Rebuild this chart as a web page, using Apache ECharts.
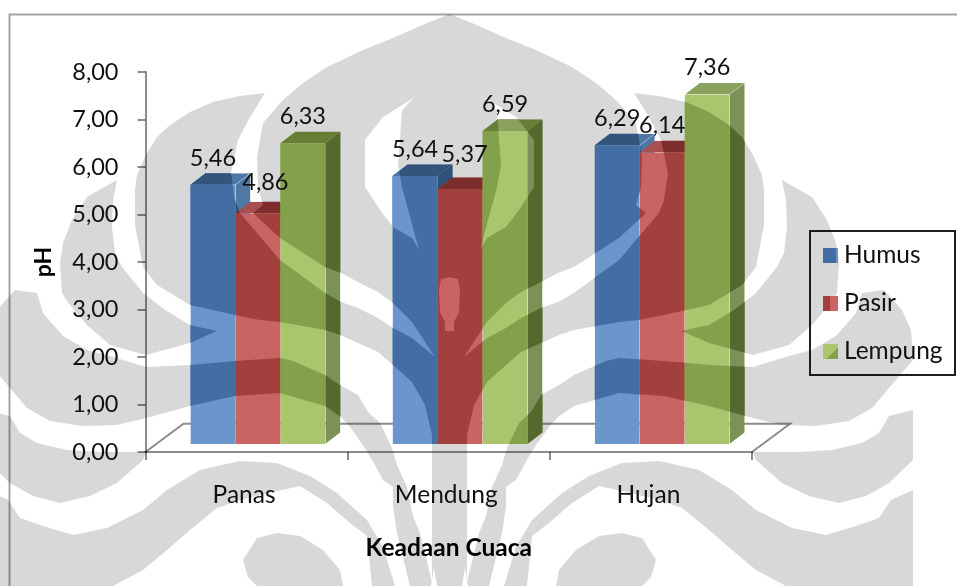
<!DOCTYPE html>
<html>
<head>
<meta charset="utf-8">
<title>pH menurut keadaan cuaca</title>
<script src="https://cdn.jsdelivr.net/npm/echarts@6/dist/echarts.min.js"></script>
<style>html,body{margin:0;padding:0;background:#fff}#chart{width:957px;height:586px}</style>
</head>
<body>
<div id="chart"></div>
<script>
// Chart values
const categories = ['Panas', 'Mendung', 'Hujan'];
const humus = [5.46, 5.64, 6.29];
const pasir = [4.86, 5.37, 6.14];
const lempung = [6.33, 6.59, 7.36];
const phTicks = ['0,00', '1,00', '2,00', '3,00', '4,00', '5,00', '6,00', '7,00', '8,00'];
const valueText = [
  ['5,46', '5,64', '6,29'],
  ['4,86', '5,37', '6,14'],
  ['6,33', '6,59', '7,36']
];
// Nudges for value labels that would otherwise collide with a neighbouring bar
const labelNudge = [
  [[0, 0], [0, 0], [0, 0]],
  [[7.5, -4.5], [4.5, -8], [0, 0]],
  [[0, 0], [0, 0], [0, 0]]
];

// Emblem drawn across the page: left half outlines, the right half is their reflection
const emblemAxis = 899;
const emblemBody = [
  [450,14],[427,23],[393,38],[363,50],[327,67],[303,83],[283,100],[263,123],[257,157],[258,187],[263,205],[253,213],
  [280,238],[325,267],[341,273],[358,282],[378,292],[393,303],[412,322],[435,357],[412,338],[393,328],[378,318],
  [358,308],[341,302],[325,293],[280,260],[240,213],[235,200],[231,173],[238,140],[250,117],[265,93],[240,96],
  [213,102],[190,112],[170,125],[157,137],[146,155],[137,175],[135,190],[135,225],[143,267],[157,285],[190,305],
  [235,315],[260,320],[280,322],[325,330],[340,335],[358,343],[378,352],[393,365],[412,382],[425,405],[432,435],
  [432,586],[450,586]
];
const emblemWing = [
  [117,180],[87,197],[72,220],[63,243],[60,263],[62,293],[70,305],[87,325],[110,345],[146,355],[190,343],[217,331],
  [190,325],[165,310],[143,293],[122,267],[115,253],[112,227],[113,200]
];
const emblemBand = [
  [15,290],[37,293],[43,313],[63,336],[87,350],[110,356],[146,367],[190,365],[235,361],[280,358],[293,361],[325,375],
  [340,385],[358,395],[368,412],[380,423],[392,448],[397,465],[407,487],[413,516],[420,533],[433,586],[410,586],
  [397,533],[393,507],[393,487],[383,480],[375,465],[365,448],[350,427],[341,417],[325,406],[280,393],[235,396],
  [190,406],[146,418],[117,425],[83,426],[50,421],[27,408],[10,388],[-14,360],[-12,330],[-3,310]
];
const emblemLens = [
  [10,416],[20,433],[37,443],[67,450],[100,452],[146,452],[143,460],[117,483],[90,496],[60,503],[33,496],[10,483],
  [-14,460],[-14,410]
];
const emblemWave = [
  [-14,490],[8,500],[20,518],[43,526],[73,535],[107,528],[143,510],[167,490],[200,470],[240,461],[277,463],[310,476],
  [337,493],[367,520],[383,547],[395,586],[372,586],[367,536],[350,523],[327,503],[300,486],[273,492],[240,500],
  [217,508],[190,530],[167,550],[143,570],[113,586],[-14,586]
];
const emblemOval = [
  [243,560],[248,577],[257,586],[343,586],[340,570],[323,550],[300,536],[277,533],[257,538]
];
const emblemCrescent = [
  [415,97],[383,117],[365,140],[365,187],[380,210],[393,227],[412,238],[419,250],[402,187],[398,165],[400,140],[402,110]
];
const emblemFlame = [
  [450,277],[441,279],[439,290],[440,312],[445,322],[445,331],[450,331]
];
const emblemSpike = [
  [434,568],[437,586],[431,586]
];

const mirrored = pts => pts.map(p => [emblemAxis - p[0], p[1]]);
const emblemSolid = [emblemBody, emblemWing, emblemBand, emblemLens, emblemWave, emblemOval]
  .flatMap(pts => [pts, mirrored(pts)]);
const emblemHoles = [emblemCrescent, emblemFlame, emblemSpike]
  .flatMap(pts => [pts, mirrored(pts)]);

// Face tints: [plain, under the emblem]
const palette = [
  { front: ['#6a96cc', '#426ea3'], top: ['#4f77a6', '#33547c'], side: ['#5078a5', '#2f5378'] },
  { front: ['#c96462', '#a2403e'], top: ['#a85050', '#7e2d2d'], side: ['#a05050', '#6f2825'] },
  { front: ['#a9c66f', '#83a04a'], top: ['#8aa05d', '#677f35'], side: ['#7c9158', '#55682e'] }
];

const depthX = 15, depthY = 11.5;          // receding edge of a bar
const floorX = 38, floorY = 28.3;          // receding edge of the chart floor
const insetX = 11.3, insetY = 8;           // how far bars stand back from the front of the floor
const barShare = 0.2225;                   // bar width as a share of the category band

function tintedFace(points, tints) {
  const poly = (pts, fill) => ({ type: 'polygon', silent: true, shape: { points: pts }, style: { fill } });
  return {
    type: 'group',
    clipPath: { type: 'polygon', shape: { points } },
    children: [poly(points, tints[0])]
      .concat(emblemSolid.map(p => poly(p, tints[1])))
      .concat(emblemHoles.map(p => poly(p, tints[0])))
  };
}

function barSeries(name, values, slot) {
  return {
    name,
    type: 'custom',
    z: 5 + slot,
    itemStyle: { color: palette[slot].front[1] },
    data: values.map((v, i) => [i, v]),
    encode: { x: 0, y: 1 },
    renderItem(params, api) {
      const c = api.value(0);
      const band = api.size([1, 0])[0];
      const w = band * barShare;
      const top = api.coord([c, api.value(1)]);
      const base = api.coord([c, 0]);
      const x = top[0] + insetX + (slot - 1.5) * w;
      const y = top[1] - insetY;
      const b = base[1] - insetY;
      const front = [[x, y], [x + w, y], [x + w, b], [x, b]];
      const lid = [[x, y], [x + w, y], [x + w + depthX, y - depthY], [x + depthX, y - depthY]];
      const side = [[x + w, y], [x + w + depthX, y - depthY], [x + w + depthX, b - depthY], [x + w, b]];
      return {
        type: 'group',
        children: [
          tintedFace(side, palette[slot].side),
          tintedFace(lid, palette[slot].top),
          tintedFace(front, palette[slot].front)
        ]
      };
    }
  };
}

// Value labels sit above every bar, so they get a series of their own
const labelRows = [humus, pasir, lempung].flatMap((vals, s) => vals.map((v, i) => [i, v, s]));
const labelSeries = {
  name: 'nilai',
  type: 'custom',
  z: 20,
  data: labelRows,
  encode: { x: 0, y: 1 },
  renderItem(params, api) {
    const c = api.value(0), s = api.value(2);
    const band = api.size([1, 0])[0];
    const w = band * barShare;
    const p = api.coord([c, api.value(1)]);
    const nudge = labelNudge[s][c];
    return {
      type: 'text',
      silent: true,
      x: p[0] + insetX + (s - 1) * w + nudge[0],
      y: p[1] - insetY - 26.5 + nudge[1],
      style: {
        text: valueText[s][c],
        fill: '#111111',
        font: '23.5px Lato',
        align: 'center',
        verticalAlign: 'middle'
      }
    };
  }
};

// Floor outline behind the bars
const floorSeries = {
  name: 'lantai',
  type: 'custom',
  z: 1,
  data: [[0, 0], [2, 0]],
  encode: { x: 0, y: 1 },
  renderItem(params, api) {
    if (params.dataIndex !== 0) return null;
    const half = api.size([1, 0])[0] / 2;
    const a = api.coord([0, 0]);
    const z = api.coord([2, 0]);
    const l = a[0] - half, r = z[0] + half, y = a[1];
    return {
      type: 'polyline',
      silent: true,
      shape: { points: [[l, y], [l + floorX, y - floorY], [r + floorX, y - floorY], [r, y]] },
      style: { stroke: 'rgba(0,0,0,0.45)', lineWidth: 2, fill: null }
    };
  }
};

const hardStops = (x2, y2, first, second, at) => ({
  type: 'linear', x: 0, y: 0, x2, y2,
  colorStops: [
    { offset: 0, color: first }, { offset: at, color: first },
    { offset: at, color: second }, { offset: 1, color: second }
  ]
});

const pageEmblem = emblemSolid.map(pts => ({
  type: 'polygon', silent: true, z: -10, shape: { points: pts }, style: { fill: '#d8d8d8' }
})).concat(emblemHoles.map(pts => ({
  type: 'polygon', silent: true, z: -9, shape: { points: pts }, style: { fill: '#ffffff' }
})));

const frame = [
  { type: 'polyline', silent: true, z: 1,
    shape: { points: [[9.5, 590], [9.5, 14.5], [960, 14.5]] },
    style: { stroke: 'rgba(0,0,0,0.36)', lineWidth: 2, fill: null } },
  { type: 'rect', silent: true, z: 1,
    shape: { x: 810, y: 231, width: 145, height: 144 },
    style: { stroke: 'rgba(0,0,0,0.88)', lineWidth: 2, fill: null } }
];

const axisStroke = { color: 'rgba(0,0,0,0.45)', width: 2 };

const chart = echarts.init(document.getElementById('chart'), null, { renderer: 'canvas' });
chart.setOption({
  animation: false,
  backgroundColor: '#ffffff',
  textStyle: { fontFamily: 'Lato' },
  graphic: { elements: pageEmblem.concat(frame) },
  grid: { left: 145.5, right: 205, top: 72, bottom: 134 },
  legend: {
    orient: 'vertical',
    left: 823,
    top: 243,
    padding: 0,
    itemWidth: 15,
    itemHeight: 15,
    itemGap: 23,
    icon: 'rect',
    textStyle: { fontFamily: 'Lato', fontSize: 24.5, color: '#111111', padding: [2, 0, 0, 1] },
    data: [
      { name: 'Humus', itemStyle: { color: hardStops(1, 0, '#426ea3', '#6a96cc', 0.9) } },
      { name: 'Pasir', itemStyle: { color: hardStops(1, 0, '#a2403e', '#c96462', 0.45) } },
      { name: 'Lempung', itemStyle: { color: hardStops(1, 1, '#a9c66f', '#83a04a', 0.62) } }
    ]
  },
  xAxis: {
    type: 'category',
    data: categories,
    name: 'Keadaan Cuaca',
    nameLocation: 'middle',
    nameGap: 84,
    nameTextStyle: { fontFamily: 'Lato', fontWeight: 'bold', fontSize: 24.5, color: '#000' },
    axisLine: { lineStyle: axisStroke },
    axisTick: { show: true, length: 8, lineStyle: axisStroke },
    axisLabel: { fontFamily: 'Lato', fontSize: 24.5, color: '#111111', margin: 31, padding: [0, 5, 0, 0] }
  },
  yAxis: {
    type: 'value',
    min: 0,
    max: 8,
    interval: 1,
    name: 'pH',
    nameLocation: 'middle',
    nameGap: 90,
    nameTextStyle: { fontFamily: 'Lato', fontWeight: 'bold', fontSize: 23, color: '#000' },
    splitLine: { show: false },
    axisLine: { show: true, lineStyle: axisStroke },
    axisTick: { show: true, length: 8, lineStyle: axisStroke },
    axisLabel: {
      fontFamily: 'Lato', fontSize: 23.5, color: '#111111', margin: 27, padding: [5, 0, 0, 0],
      formatter: v => phTicks[v]
    }
  },
  series: [
    floorSeries,
    barSeries('Humus', humus, 0),
    barSeries('Pasir', pasir, 1),
    barSeries('Lempung', lempung, 2),
    labelSeries
  ]
});
</script>
</body>
</html>
